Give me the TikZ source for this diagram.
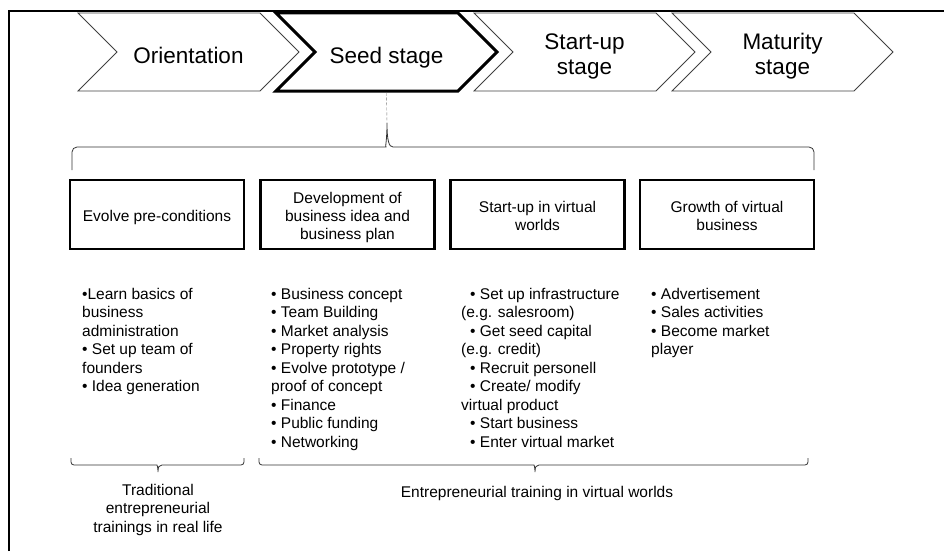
\documentclass[tikz,border=0pt]{standalone}
\usepackage{fontspec}
\setmainfont{Liberation Sans}
\usetikzlibrary{shapes.symbols}

\begin{document}
\begin{tikzpicture}[x=1pt,y=-1pt]
      \tikzstyle{stage}=[draw=black!75,line width=.8pt,shape=signal,signal from=west,signal to=east,signal pointer angle=90,minimum width=221pt,minimum height=78pt,inner sep=0pt,align=center,text height=22.6pt,text depth=0pt,font=\fontsize{22.5}{25}\selectfont];
      \tikzstyle{current}=[draw=black,line width=3pt];
      \tikzstyle{twolines}=[text height=45pt];
      \tikzstyle{phase}=[draw,line width=2.5pt,minimum width=174pt,minimum height=69pt,inner sep=0pt,align=center,text height=14.2pt,text depth=0pt,font=\fontsize{15.5}{18.3}\selectfont];
      \tikzstyle{tasks}=[anchor=north west,inner sep=0pt,align=left,font=\fontsize{15.5}{18.5}\selectfont];
      \tikzstyle{brace}=[draw=black!80,line width=.8pt];
      \tikzstyle{note}=[anchor=north,inner sep=0pt,align=center,font=\fontsize{15.5}{18.3}\selectfont];
      \useasboundingbox (0,0) rectangle (944,551);
      \draw[line width=2pt] (9,551) -- (9,11) -- (944,11);

      % stages
      \node[stage] (orient) at (188.5,52) {Orientation};
      \node[stage,current] (seed) at (386.5,52) {Seed stage};
      \node[stage,twolines] (startup) at (584.5,52) {Start-up\\stage};
      \node[stage,twolines] (mature) at (782.5,52) {Maturity\\stage};

      % brace below the seed stage
      \coordinate (tip) at (387,123);
      \draw[draw=black!55,dash pattern=on 3pt off 2pt] (seed.south) -- (tip);
      \draw[brace] (72,170) [rounded corners=5pt] -- (72,147) -- (381,147) [sharp corners]
            .. controls (385,147) and (387,141) .. (tip)
            .. controls (387,141) and (389,147) .. (393,147) [rounded corners=5pt] -- (814,147) -- (814,170);

      % phases of the seed stage
      \node[phase] (pre) at (157,214.5) {Evolve pre-conditions};
      \node[phase,text height=50.8pt] (idea) at (347.5,214.5) {Development of\\business idea and\\business plan};
      \node[phase,text height=32.5pt] (virt) at (537.5,214.5) {Start-up in virtual\\worlds};
      \node[phase,text height=32.5pt] (grow) at (727,214.5) {Growth of virtual\\business};

      \node[tasks] (pretasks) at (82,288) {•Learn basics of\\business\\administration\\• Set up team of\\founders\\• Idea generation};
      \node[tasks] (ideatasks) at (271,288) {• Business concept\\• Team Building\\• Market analysis\\• Property rights\\• Evolve prototype /\\proof of concept\\• Finance\\• Public funding\\• Networking};
      \node[tasks] (virttasks) at (461,288) {\hspace*{9pt}• Set up infrastructure\\(e.g. salesroom)\\\hspace*{9pt}• Get seed capital\\(e.g. credit)\\\hspace*{9pt}• Recruit personell\\\hspace*{9pt}• Create/ modify\\virtual product\\\hspace*{9pt}• Start business\\\hspace*{9pt}• Enter virtual market};
      \node[tasks] (growtasks) at (651,288) {• Advertisement\\• Sales activities\\• Become market\\player};

      % training braces
      \coordinate (realtip) at (158,472);
      \coordinate (virttip) at (535,472);
      \draw[brace] (71,458) [rounded corners=3pt] -- (71,465) -- (154,465) [sharp corners]
            .. controls (157,465) and (158,467) .. (realtip)
            .. controls (158,467) and (159,465) .. (162,465) [rounded corners=3pt] -- (244,465) -- (244,458);
      \draw[brace] (259,458) [rounded corners=3pt] -- (259,465) -- (531,465) [sharp corners]
            .. controls (534,465) and (535,467) .. (virttip)
            .. controls (535,467) and (536,465) .. (539,465) [rounded corners=3pt] -- (808,465) -- (808,458);
      \node[note] (real) at (158,484) {Traditional\\entrepreneurial\\trainings in real life};
      \node[note] (virtual) at (537,486) {Entrepreneurial training in virtual worlds};
\end{tikzpicture}
\end{document}
